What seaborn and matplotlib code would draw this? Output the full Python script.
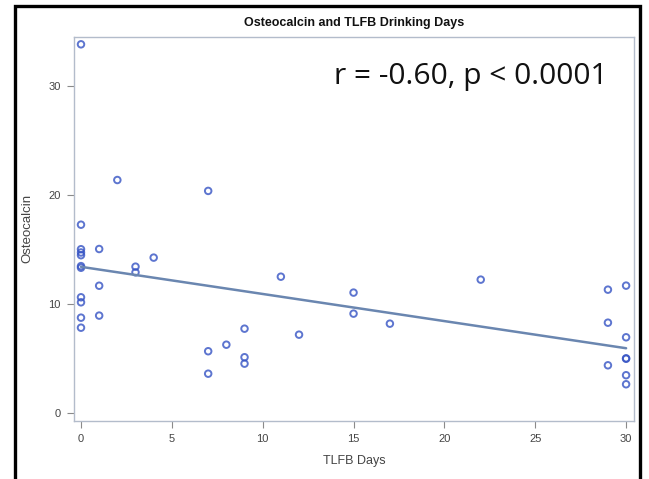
import matplotlib
matplotlib.use("Agg")
import matplotlib.pyplot as plt
import seaborn as sns
import pandas as pd
from matplotlib.patches import Rectangle

# Data
tlfb_days = [0, 0, 0, 0, 0, 0, 0, 0, 0, 0, 0,
             1, 1, 1,
             2,
             3, 3,
             4,
             7, 7, 7,
             8,
             9, 9, 9,
             11,
             12,
             15, 15,
             17,
             22,
             29, 29, 29,
             30, 30, 30, 30, 30, 30]
osteocalcin = [33.85, 17.3, 15.05, 14.75, 14.5, 13.5, 13.35, 10.64, 10.18, 8.77, 7.85,
               15.07, 11.7, 8.96,
               21.4,
               13.45, 12.93,
               14.28,
               20.4, 5.69, 3.63,
               6.29,
               7.76, 5.14, 4.55,
               12.53,
               7.21,
               11.07, 9.14,
               8.22,
               12.26,
               11.34, 8.31, 4.40,
               11.71, 6.97, 5.04, 5.0, 3.49, 2.66]
x_ticks = [0, 5, 10, 15, 20, 25, 30]
y_ticks = [0, 10, 20, 30]
title = "Osteocalcin and TLFB Drinking Days"
annotation = "r = -0.60, p < 0.0001"

df = pd.DataFrame({"TLFB Days": tlfb_days, "Osteocalcin": osteocalcin})

sns.set_theme(style="white")
plt.rcParams["font.family"] = ["Liberation Sans", "DejaVu Sans"]

fig = plt.figure(figsize=(6.49, 4.79), dpi=100)
ax = fig.add_axes([0.1136, 0.1211, 0.8637, 0.8023])

sns.regplot(data=df, x="TLFB Days", y="Osteocalcin", ci=None, ax=ax,
            scatter_kws=dict(s=22, facecolors="none", edgecolors="#3553c4", linewidths=1.4),
            line_kws=dict(color="#6a86b0", linewidth=1.8))

ax.set_xlim(-0.4, 30.45)
ax.set_ylim(-0.71, 34.55)
ax.set_xticks(x_ticks)
ax.set_yticks(y_ticks)
ax.tick_params(axis="both", which="both", direction="out", length=5, width=0.8,
               color="#8a8a8a", labelcolor="#444444", labelsize=8, pad=4.5,
               bottom=True, left=True)
for sp in ax.spines.values():
    sp.set_color("#b3bccb")
    sp.set_linewidth(1.0)
ax.set_xlabel("TLFB Days", fontsize=9, color="#444444", labelpad=8)
ax.set_ylabel("Osteocalcin", fontsize=9.5, color="#444444", labelpad=10.5)
ax.set_title(title, fontsize=9, fontweight="bold", color="#111111", pad=8)

ax.text(0.953, 0.896, annotation, transform=ax.transAxes, ha="right", va="center",
        fontsize=21.5, color="#111111", family=["Open Sans", "DejaVu Sans"])

# black frame around the slide region
fig.patches.append(Rectangle((15 / 649, -0.05), (640 - 15) / 649, 1.05 - 6 / 479,
                             transform=fig.transFigure, fill=False,
                             edgecolor="black", linewidth=2.4))

fig.savefig("out.png", dpi=100)
